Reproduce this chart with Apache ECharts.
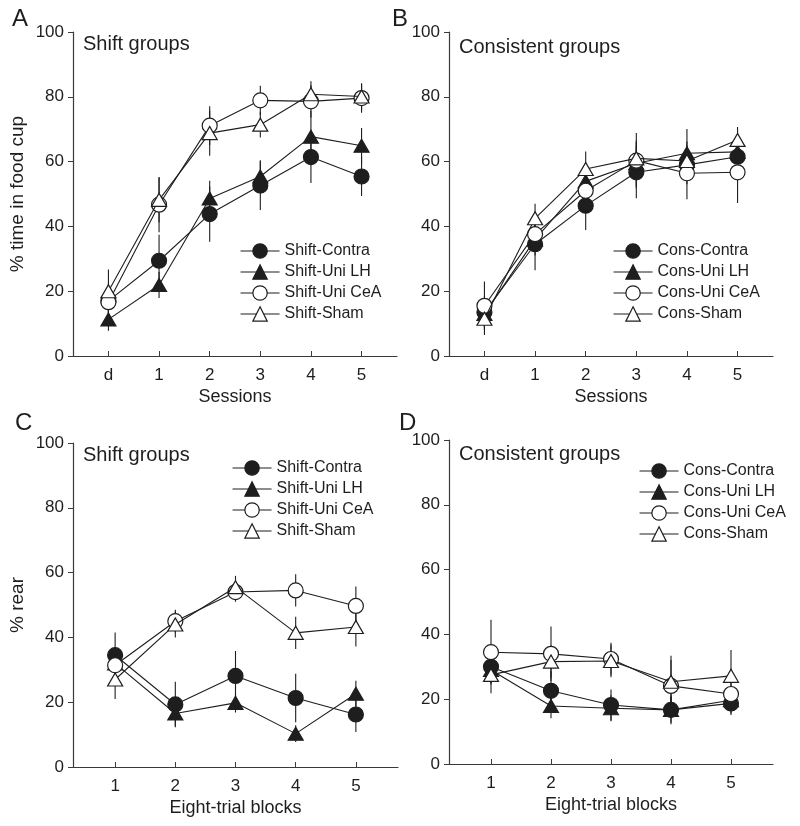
<!DOCTYPE html>
<html>
<head>
<meta charset="utf-8">
<script src="https://cdn.jsdelivr.net/npm/echarts@6/dist/echarts.min.js"></script>
<style>html,body{margin:0;padding:0;background:#fff}#c{width:800px;height:826px}</style>
</head>
<body>
<div id="c"></div>
<script>
// ---------- DATA ----------
const sessionLabels = ['d', '1', '2', '3', '4', '5'];
const blockLabels = ['1', '2', '3', '4', '5'];
const yTicks = [0, 20, 40, 60, 80, 100];

const shiftNames = ['Shift-Contra', 'Shift-Uni LH', 'Shift-Uni CeA', 'Shift-Sham'];
const consNames = ['Cons-Contra', 'Cons-Uni LH', 'Cons-Uni CeA', 'Cons-Sham'];

// Panel A: % time in food cup, shift groups
const A_contra = [17, 29.4, 43.8, 52.6, 61.4, 55.4];
const A_contraErr = [4, 8, 8.5, 7.5, 8, 6];
const A_lh = [11.3, 21.9, 48.6, 55.4, 67.7, 64.9];
const A_lhErr = [3.5, 4, 5.5, 5, 8, 5.5];
const A_cea = [16.6, 46.7, 71.1, 78.9, 78.6, 79.6];
const A_ceaErr = [6, 8.5, 6, 4.5, 5, 4.5];
const A_sham = [20, 48.2, 68.8, 71.4, 80.8, 80.1];
const A_shamErr = [6.7, 7, 7, 4, 4, 4];

// Panel B: % time in food cup, consistent groups
const B_contra = [13.5, 34.5, 46.4, 56.7, 59, 61.5];
const B_contraErr = [5, 8, 7.5, 8, 6, 5];
const B_lh = [13, 36, 53.9, 59.5, 62.6, 63];
const B_lhErr = [4, 5, 5, 7, 7.5, 5];
const B_cea = [15.5, 37.6, 51, 60.3, 56.4, 56.7];
const B_ceaErr = [7.5, 5, 5, 8.5, 8, 9.5];
const B_sham = [11.5, 42.5, 57.7, 61, 60.2, 66.7];
const B_shamErr = [5, 4.5, 5.4, 5, 6, 4];

// Panel C: % rear, shift groups
const C_contra = [34.5, 19.3, 28.1, 21.3, 16.2];
const C_contraErr = [7, 7, 7.7, 7.5, 5.4];
const C_lh = [32, 16.5, 19.8, 10.3, 22.6];
const C_lhErr = [5, 4, 3, 2.6, 4];
const C_cea = [31.4, 45, 54, 54.5, 49.7];
const C_ceaErr = [5, 3.5, 3, 5, 6];
const C_sham = [27, 44, 55.5, 41.4, 43.2];
const C_shamErr = [6, 4, 3.5, 5, 6];

// Panel D: % rear, consistent groups
const D_contra = [30, 22.6, 18.2, 16.7, 18.7];
const D_contraErr = [5, 6, 4.8, 4.4, 3.6];
const D_lh = [29, 17.9, 17.2, 16.7, 19.7];
const D_lhErr = [4, 3.8, 4, 4, 3];
const D_cea = [34.5, 34, 32.4, 24.1, 21.6];
const D_ceaErr = [10, 8.4, 5, 8, 6];
const D_sham = [27.5, 31.6, 31.8, 25.4, 27.2];
const D_shamErr = [5.7, 5, 5, 8, 8];

// ---------- STYLE ----------
const FONT = '"Liberation Sans", Arial, Helvetica, sans-serif';
const INK = '#1e1e1e';
const AXIS = '#3a3a3a';
const markerStyles = [
  { symbol: 'circle', size: 15, fill: INK },
  { symbol: 'triangle', size: [15, 13], fill: INK },
  { symbol: 'circle', size: 15, fill: '#ffffff' },
  { symbol: 'triangle', size: [15, 13], fill: '#ffffff' }
];

const panels = [
  { names: shiftNames, x0: 0, vals: [A_contra, A_lh, A_cea, A_sham], errs: [A_contraErr, A_lhErr, A_ceaErr, A_shamErr], labels: sessionLabels },
  { names: consNames, x0: 0, vals: [B_contra, B_lh, B_cea, B_sham], errs: [B_contraErr, B_lhErr, B_ceaErr, B_shamErr], labels: sessionLabels },
  { names: shiftNames, x0: 1, vals: [C_contra, C_lh, C_cea, C_sham], errs: [C_contraErr, C_lhErr, C_ceaErr, C_shamErr], labels: blockLabels },
  { names: consNames, x0: 1, vals: [D_contra, D_lh, D_cea, D_sham], errs: [D_contraErr, D_lhErr, D_ceaErr, D_shamErr], labels: blockLabels }
];

const grids = [
  { left: 73, top: 32, width: 324, height: 324 },
  { left: 449, top: 32, width: 324, height: 324 },
  { left: 73, top: 443, width: 325, height: 324 },
  { left: 449, top: 440, width: 324, height: 324 }
];
const xRanges = [[-0.7, 5.7], [-0.7, 5.7], [0.3, 5.7], [0.3, 5.7]];
const yNames = ['% time in food cup', '', '% rear', ''];
const xNames = ['Sessions', 'Sessions', 'Eight-trial blocks', 'Eight-trial blocks'];

const xAxes = [], yAxes = [], series = [];
panels.forEach((p, gi) => {
  const ticks = p.labels.map((_, i) => i + p.x0);
  xAxes.push({
    gridIndex: gi, type: 'value', min: xRanges[gi][0], max: xRanges[gi][1],
    name: xNames[gi], nameLocation: 'middle', nameGap: 32,
    nameTextStyle: { fontFamily: FONT, fontSize: 18, color: INK },
    axisLine: { show: true, onZero: false, lineStyle: { color: AXIS, width: 1.2 } },
    axisTick: { show: true, inside: true, length: 5, customValues: ticks, lineStyle: { color: AXIS } },
    axisLabel: { customValues: ticks, margin: 11, fontFamily: FONT, fontSize: 17, color: INK,
      formatter: v => p.labels[Math.round(v) - p.x0] },
    splitLine: { show: false }
  });
  yAxes.push({
    gridIndex: gi, type: 'value', min: 0, max: 100, interval: 20,
    name: yNames[gi], nameLocation: 'middle', nameGap: 46,
    nameTextStyle: { fontFamily: FONT, fontSize: 19, color: INK },
    axisLine: { show: true, onZero: false, lineStyle: { color: AXIS, width: 1.2 } },
    axisTick: { show: true, inside: false, length: 5, lineStyle: { color: AXIS } },
    axisLabel: { margin: 9, fontFamily: FONT, fontSize: 17, color: INK },
    splitLine: { show: false }
  });
  p.vals.forEach((vals, si) => {
    const errs = p.errs[si];
    series.push({
      type: 'custom', xAxisIndex: gi, yAxisIndex: gi, z: 1, silent: true,
      data: vals.map((v, i) => [i + p.x0, v, errs[i]]),
      renderItem: (params, api) => {
        const x = api.value(0), y = api.value(1), e = api.value(2);
        const a = api.coord([x, y + e]), b = api.coord([x, y - e]);
        return { type: 'line', shape: { x1: a[0], y1: a[1], x2: b[0], y2: b[1] },
          style: { stroke: INK, lineWidth: 1.1 } };
      }
    });
  });
  p.vals.forEach((vals, si) => {
    const m = markerStyles[si];
    series.push({
      type: 'line', name: p.names[si], xAxisIndex: gi, yAxisIndex: gi, z: 2 + si,
      data: vals.map((v, i) => [i + p.x0, v]),
      symbol: m.symbol, symbolSize: m.size, showSymbol: true,
      lineStyle: { color: INK, width: 1.1 },
      itemStyle: { color: m.fill, borderColor: INK, borderWidth: 1.2 },
      emphasis: { disabled: true }, silent: true
    });
  });
});

const legendPos = [
  { left: 240, top: 243 },
  { left: 613, top: 243 },
  { left: 232, top: 460 },
  { left: 639, top: 463 }
];
const legends = panels.map((p, gi) => ({
  data: p.names, orient: 'vertical', left: legendPos[gi].left, top: legendPos[gi].top,
  itemWidth: 39, itemHeight: 18, itemGap: 5, padding: 0, selectedMode: false,
  itemStyle: { borderWidth: 1.2 }, lineStyle: { width: 1.1 },
  textStyle: { fontFamily: FONT, fontSize: 16, color: INK }
}));

const titles = [
  { text: 'A', left: 12, top: 7, textStyle: { fontSize: 24 } },
  { text: 'B', left: 392, top: 7, textStyle: { fontSize: 24 } },
  { text: 'C', left: 15, top: 411, textStyle: { fontSize: 24 } },
  { text: 'D', left: 399, top: 411, textStyle: { fontSize: 24 } },
  { text: 'Shift groups', left: 83, top: 34, textStyle: { fontSize: 20 } },
  { text: 'Consistent groups', left: 459, top: 37, textStyle: { fontSize: 20 } },
  { text: 'Shift groups', left: 83, top: 445, textStyle: { fontSize: 20 } },
  { text: 'Consistent groups', left: 459, top: 444, textStyle: { fontSize: 20 } }
].map(t => ({ text: t.text, left: t.left, top: t.top, padding: 0,
  textStyle: Object.assign({ fontFamily: FONT, fontWeight: 'normal', color: INK }, t.textStyle) }));

const chart = echarts.init(document.getElementById('c'), null, { renderer: 'canvas' });
chart.setOption({
  animation: false,
  backgroundColor: '#ffffff',
  title: titles,
  legend: legends,
  grid: grids,
  xAxis: xAxes,
  yAxis: yAxes,
  series: series
});
</script>
</body>
</html>
